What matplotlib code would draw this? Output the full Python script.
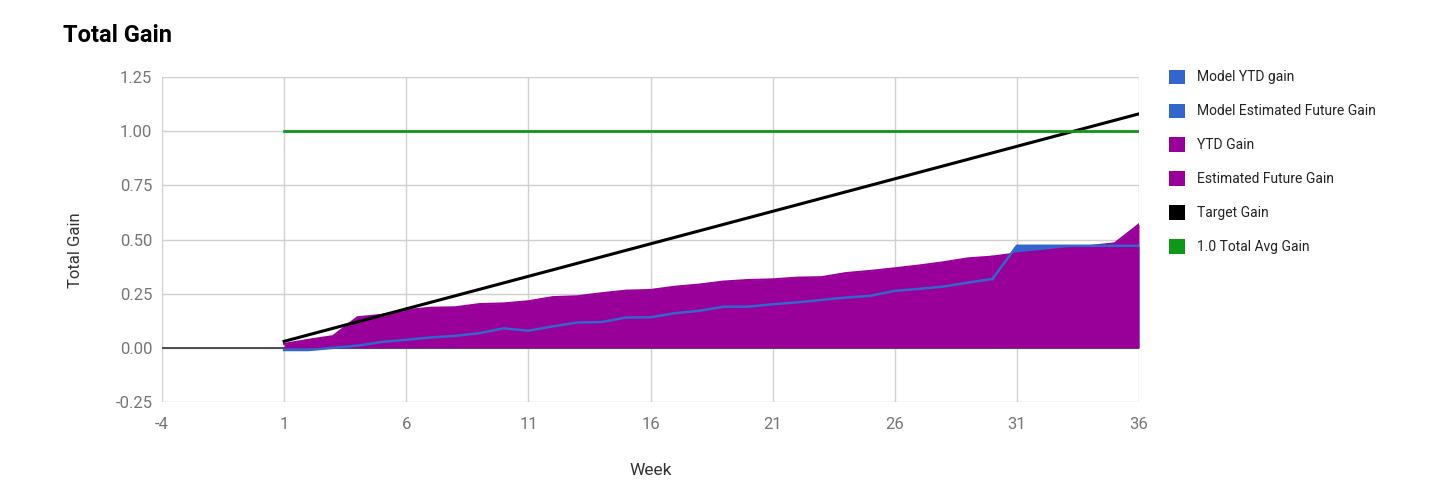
import matplotlib
matplotlib.use("Agg")
import matplotlib.pyplot as plt
from matplotlib.patches import Patch

plt.rcParams['font.family'] = ['Roboto', 'DejaVu Sans']

# weekly data
weeks = list(range(1, 37))
ytd_weeks = list(range(1, 31))
future_weeks = list(range(30, 37))

model_ytd = [-0.01, -0.01, 0.00, 0.01, 0.027, 0.037, 0.048, 0.055, 0.068, 0.09,
             0.079, 0.099, 0.117, 0.119, 0.14, 0.141, 0.16, 0.171, 0.19, 0.19,
             0.201, 0.21, 0.221, 0.232, 0.24, 0.263, 0.272, 0.283, 0.301, 0.318]
model_future = [0.318, 0.471, 0.471, 0.471, 0.471, 0.471, 0.471]

ytd_gain = [0.018, 0.037, 0.054, 0.141, 0.152, 0.174, 0.185, 0.187, 0.202, 0.205,
            0.215, 0.234, 0.238, 0.252, 0.264, 0.267, 0.282, 0.292, 0.306, 0.313,
            0.316, 0.324, 0.326, 0.345, 0.355, 0.367, 0.38, 0.395, 0.413, 0.421]
future_gain = [0.421, 0.436, 0.447, 0.459, 0.47, 0.482, 0.57]

target_gain = [0.03, 0.06, 0.09, 0.12, 0.15, 0.18, 0.21, 0.24, 0.27, 0.30,
               0.33, 0.36, 0.39, 0.42, 0.45, 0.48, 0.51, 0.54, 0.57, 0.60,
               0.63, 0.66, 0.69, 0.72, 0.75, 0.78, 0.81, 0.84, 0.87, 0.90,
               0.93, 0.96, 0.99, 1.02, 1.05, 1.08]
avg_gain = [1.0] * len(weeks)

series_names = ['Model YTD gain', 'Model Estimated Future Gain', 'YTD Gain',
                'Estimated Future Gain', 'Target Gain', '1.0 Total Avg Gain']
series_colors = ['#3366cc', '#3366cc', '#990099', '#990099', '#000000', '#109618']

x_ticks = [-4, 1, 6, 11, 16, 21, 26, 31, 36]
y_ticks = [-0.25, 0.0, 0.25, 0.5, 0.75, 1.0, 1.25]

fig = plt.figure(figsize=(14.46, 4.98), dpi=100)
ax = fig.add_axes([162 / 1446, 1 - 402 / 498, 977 / 1446, 325 / 498])

# areas first, model under actual
ax.fill_between(ytd_weeks, model_ytd, 0, color=series_colors[0], lw=0, zorder=2)
ax.fill_between(future_weeks, model_future, 0, color=series_colors[1], lw=0, zorder=2)
ax.fill_between(ytd_weeks, ytd_gain, 0, color=series_colors[2], lw=0, zorder=3)
ax.fill_between(future_weeks, future_gain, 0, color=series_colors[3], lw=0, zorder=3)

# lines on top
ax.plot(ytd_weeks, ytd_gain, color=series_colors[2], lw=1.5, zorder=4)
ax.plot(future_weeks, future_gain, color=series_colors[3], lw=1.5, zorder=4)
ax.plot(ytd_weeks, model_ytd, color=series_colors[0], lw=1.8, zorder=5)
ax.plot(future_weeks, model_future, color=series_colors[1], lw=1.8, zorder=5)
ax.plot(weeks, target_gain, color=series_colors[4], lw=2.2, zorder=6)
ax.plot(weeks, avg_gain, color=series_colors[5], lw=2.0, zorder=6)

ax.axhline(0, color='#333333', lw=1.2, zorder=1)

ax.set_xlim(-4, 36)
ax.set_ylim(-0.25, 1.25)
ax.set_xticks(x_ticks)
ax.set_yticks(y_ticks)
ax.set_xticklabels([str(t) for t in x_ticks])
ax.set_yticklabels(['%.2f' % t for t in y_ticks])
ax.grid(True, color='#d0d0d0', lw=1.0, zorder=0)
ax.set_axisbelow(True)
for s in ax.spines.values():
    s.set_visible(False)
ax.tick_params(length=0, labelsize=12, labelcolor='#757575')
ax.tick_params(axis='x', pad=11)
ax.tick_params(axis='y', pad=7)

fig.text(75 / 1446, 1 - 250 / 498, 'Total Gain', rotation=90, ha='center', va='center',
         fontsize=12, color='#333333')
fig.text(651 / 1446, 1 - 470 / 498, 'Week', ha='center', va='center',
         fontsize=12.5, color='#333333')
fig.text(63 / 1446, 1 - 35 / 498, 'Total Gain', ha='left', va='center',
         fontsize=17, fontweight='bold', color='#000000')

handles = [Patch(facecolor=c, edgecolor='none') for c in series_colors]
fig.legend(handles, series_names, loc='upper left',
           bbox_to_anchor=(1163 / 1446, 1 - 64 / 498), frameon=False,
           fontsize=10, handlelength=1.2, handleheight=1.2,
           handletextpad=0.85, labelspacing=1.38, borderaxespad=0,
           labelcolor='#222222')

fig.savefig('out.png', dpi=100)
